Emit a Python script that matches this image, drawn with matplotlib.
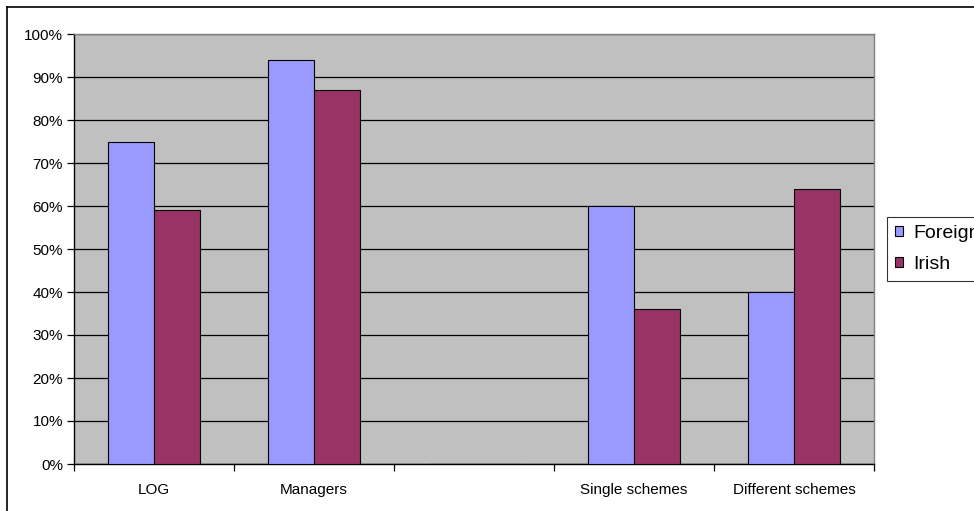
import matplotlib
matplotlib.use("Agg")
import matplotlib.pyplot as plt
from matplotlib.lines import Line2D
import numpy as np

categories = ["LOG", "Managers", "", "Single schemes", "Different schemes"]
foreign = [75, 94, 0, 60, 40]
irish = [59, 87, 0, 36, 64]
yticks = [0, 10, 20, 30, 40, 50, 60, 70, 80, 90, 100]
ytick_labels = [f"{v}%" for v in yticks]
series_names = ["Foreign", "Irish"]

W, H = 974, 511
fig = plt.figure(figsize=(W / 100, H / 100), dpi=100)
fig.patch.set_facecolor("white")

# outer chart border (left and top visible)
fig.add_artist(Line2D([7 / W, 7 / W], [0, 1 - 7 / H], color="black", lw=1.2, transform=fig.transFigure))
fig.add_artist(Line2D([7 / W, 1], [1 - 7 / H, 1 - 7 / H], color="black", lw=1.2, transform=fig.transFigure))

left, right, top, bottom = 74, 874, 34, 464
ax = fig.add_axes([left / W, 1 - bottom / H, (right - left) / W, (bottom - top) / H])
ax.set_facecolor("#C0C0C0")

x = np.arange(len(categories))
w = 0.285
ax.bar(x - w / 2, foreign, width=w, color="#9999FF", edgecolor="black", linewidth=0.8, zorder=3, label=series_names[0])
ax.bar(x + w / 2, irish, width=w, color="#993366", edgecolor="black", linewidth=0.8, zorder=3, label=series_names[1])

ax.set_xlim(-0.5, len(categories) - 0.5)
ax.set_ylim(0, 100)
ax.set_yticks(yticks)
ax.set_yticklabels(ytick_labels, fontsize=11, family="Liberation Sans")
ax.yaxis.grid(True, color="black", linewidth=0.9, zorder=1)
ax.set_axisbelow(True)

ax.set_xticks(x)
ax.set_xticklabels(categories, fontsize=11, family="Liberation Sans")
ax.set_xticks(np.arange(-0.5, len(categories)), minor=True)
ax.tick_params(axis="x", which="major", length=0, pad=14)
ax.tick_params(axis="x", which="minor", length=5, width=0.9, color="black")
ax.tick_params(axis="y", length=5, width=0.9, color="black", pad=3)

for s in ["top", "right"]:
    ax.spines[s].set_color("#808080")
    ax.spines[s].set_linewidth(1)
ax.spines["left"].set_color("black")
ax.spines["bottom"].set_color("black")
ax.spines["left"].set_linewidth(1)
ax.spines["bottom"].set_linewidth(1)

leg = fig.legend(loc="upper left", bbox_to_anchor=(887 / W, 1 - 217 / H), frameon=True,
                 prop={"family": "Liberation Sans", "size": 14}, handlelength=0.42, handleheight=0.42,
                 handletextpad=0.55, borderpad=0.4, labelspacing=0.75, fancybox=False, borderaxespad=0)
leg.get_frame().set_edgecolor("black")
leg.get_frame().set_linewidth(0.8)
for h in leg.legend_handles:
    h.set_edgecolor("black")
    h.set_linewidth(0.8)

fig.savefig("out.png", dpi=100)
